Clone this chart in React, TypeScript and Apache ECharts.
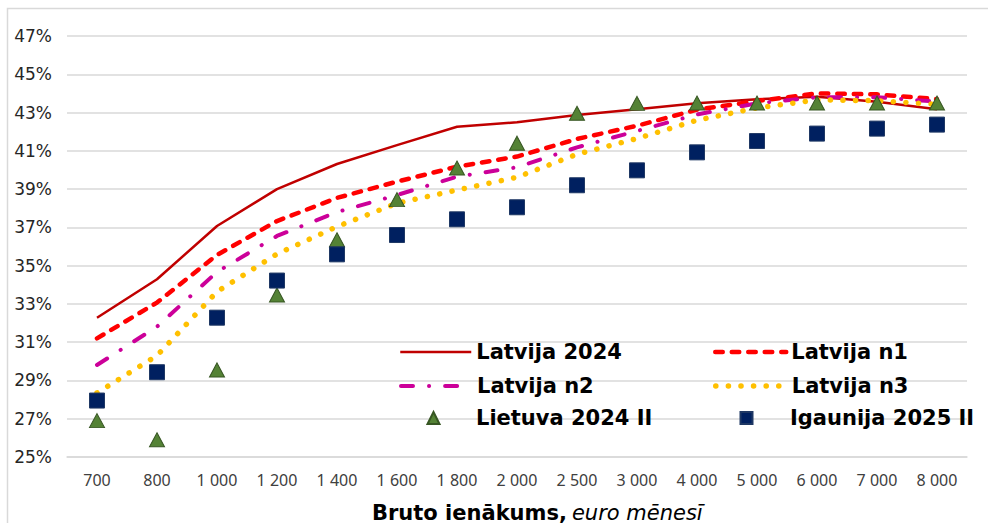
import React, { useEffect, useRef } from "react";
import * as echarts from "echarts";

const categories = ["700", "800", "1 000", "1 200", "1 400", "1 600", "1 800", "2 000", "2 500", "3 000", "4 000", "5 000", "6 000", "7 000", "8 000"];

const latvija2024 = [32.28, 34.29, 37.07, 39.0, 40.31, 41.3, 42.26, 42.49, 42.87, 43.17, 43.48, 43.69, 43.83, 43.57, 43.17];
const latvijaN1 = [31.2, 33.07, 35.56, 37.33, 38.54, 39.39, 40.17, 40.7, 41.62, 42.31, 43.15, 43.6, 44.0, 43.95, 43.7];
const latvijaN2 = [29.81, 31.81, 34.67, 36.55, 37.8, 38.69, 39.65, 40.14, 41.18, 42.04, 42.9, 43.48, 43.8, 43.8, 43.57];
const latvijaN3 = [28.35, 30.3, 33.64, 35.61, 37.04, 38.26, 38.95, 39.62, 40.82, 41.64, 42.6, 43.24, 43.66, 43.62, 43.43];
const lietuva2024II = [26.9, 25.9, 29.55, 33.47, 36.35, 38.45, 40.1, 41.4, 42.96, 43.48, 43.5, 43.5, 43.5, 43.5, 43.5];
const igaunija2025II = [27.95, 29.43, 32.28, 34.22, 35.59, 36.6, 37.42, 38.05, 39.2, 39.98, 40.92, 41.51, 41.9, 42.16, 42.37];

const yTicks = { min: 25, max: 47, interval: 2 };

const FONT = "DejaVu Sans";

export default function App() {
  const ref = useRef<HTMLDivElement>(null);

  useEffect(() => {
    if (!ref.current) return;
    const chart = echarts.init(ref.current, null, { renderer: "svg" });

    const legendText = {
      fontFamily: FONT,
      fontWeight: "bold",
      fontSize: 21,
      color: "#000000",
      lineHeight: 24,
    };
    const legendBase = {
      orient: "horizontal",
      padding: 0,
      itemGap: 0,
      selectedMode: false,
    };
    const lineLegend = {
      ...legendBase,
      itemWidth: 71,
      itemHeight: 14,
      itemStyle: { opacity: 0, borderWidth: 0 },
      textStyle: legendText,
    };

    chart.setOption({
      animation: false,
      backgroundColor: "#ffffff",
      graphic: [
        {
          type: "rect",
          shape: { x: 7.5, y: 8.5, width: 1000, height: 540 },
          style: { fill: "none", stroke: "#d9d9d9", lineWidth: 1.5 },
          silent: true,
          z: -10,
        },
      ],
      title: {
        text: "{b|Bruto ienākums,} {i|euro mēnesī}",
        left: 372,
        top: 500,
        padding: 0,
        textStyle: {
          rich: {
            b: { fontFamily: FONT, fontWeight: "bold", fontSize: 21, color: "#000", lineHeight: 25 },
            i: { fontFamily: FONT, fontStyle: "italic", fontWeight: "normal", fontSize: 21, color: "#000", lineHeight: 25 },
          },
        },
      },
      grid: { left: 67, right: 21, top: 36, bottom: 66, containLabel: false },
      xAxis: {
        type: "category",
        data: categories,
        boundaryGap: true,
        axisLine: { show: true, lineStyle: { color: "#d9d9d9", width: 1.5 } },
        axisTick: { show: false },
        axisLabel: { fontFamily: "Noto Sans", fontSize: 16, color: "#404040", margin: 15, interval: 0 },
        splitLine: { show: false },
      },
      yAxis: {
        type: "value",
        min: yTicks.min,
        max: yTicks.max,
        interval: yTicks.interval,
        axisLine: { show: false },
        axisTick: { show: false },
        axisLabel: { fontFamily: FONT, fontSize: 17, color: "#262626", margin: 15, formatter: "{value}%" },
        splitLine: { show: true, lineStyle: { color: "#d9d9d9", width: 1.5 } },
      },
      legend: [
        { ...lineLegend, data: ["Latvija 2024"], left: 399, top: 340, lineStyle: { width: 2.5 } },
        { ...lineLegend, data: ["Latvija n1"], left: 713, top: 340, lineStyle: { width: 4.5 } },
        { ...lineLegend, data: ["Latvija n2"], left: 399, top: 374, lineStyle: { width: 4 } },
        { ...lineLegend, data: ["Latvija n3"], left: 713, top: 374, lineStyle: { width: 5.5 } },
        { ...legendBase, data: ["Lietuva 2024 II"], left: 426.5, top: 406, itemWidth: 12, itemHeight: 12, textStyle: { ...legendText, padding: [0, 0, 0, 31.5] } },
        { ...legendBase, data: ["Igaunija 2025 II"], left: 739.5, top: 406, itemWidth: 12, itemHeight: 12, textStyle: { ...legendText, padding: [0, 0, 0, 32.5] } },
      ],
      series: [
        {
          name: "Latvija 2024",
          type: "line",
          data: latvija2024,
          symbol: "none",
          lineStyle: { color: "#c00000", width: 2.5 },
          itemStyle: { color: "#c00000" },
          z: 2,
        },
        {
          name: "Latvija n1",
          type: "line",
          data: latvijaN1,
          symbol: "none",
          lineStyle: { color: "#ff0000", width: 4.5, type: [7.5, 9], cap: "round" },
          itemStyle: { color: "#ff0000" },
          z: 2,
        },
        {
          name: "Latvija n2",
          type: "line",
          data: latvijaN2,
          symbol: "none",
          lineStyle: { color: "#cc0099", width: 4, type: [12, 16, 0.1, 16], cap: "round" },
          itemStyle: { color: "#cc0099" },
          z: 2,
        },
        {
          name: "Latvija n3",
          type: "line",
          data: latvijaN3,
          symbol: "none",
          lineStyle: { color: "#ffc000", width: 5.5, type: [0.1, 12.5], cap: "round" },
          itemStyle: { color: "#ffc000" },
          z: 2,
        },
        {
          name: "Lietuva 2024 II",
          type: "scatter",
          data: lietuva2024II,
          symbol: "triangle",
          symbolSize: [15, 14],
          itemStyle: { color: "#548235", borderColor: "#375623", borderWidth: 1, opacity: 1 },
          z: 3,
        },
        {
          name: "Igaunija 2025 II",
          type: "scatter",
          data: igaunija2025II,
          symbol: "rect",
          symbolSize: 15,
          itemStyle: { color: "#002060", borderColor: "#1f3864", borderWidth: 1, opacity: 1 },
          z: 4,
        },
      ],
    });

    return () => chart.dispose();
  }, []);

  return (
    <div
      ref={ref}
      style={{ position: "fixed", left: 0, top: 0, width: 988, height: 523, background: "#fff" }}
    />
  );
}
